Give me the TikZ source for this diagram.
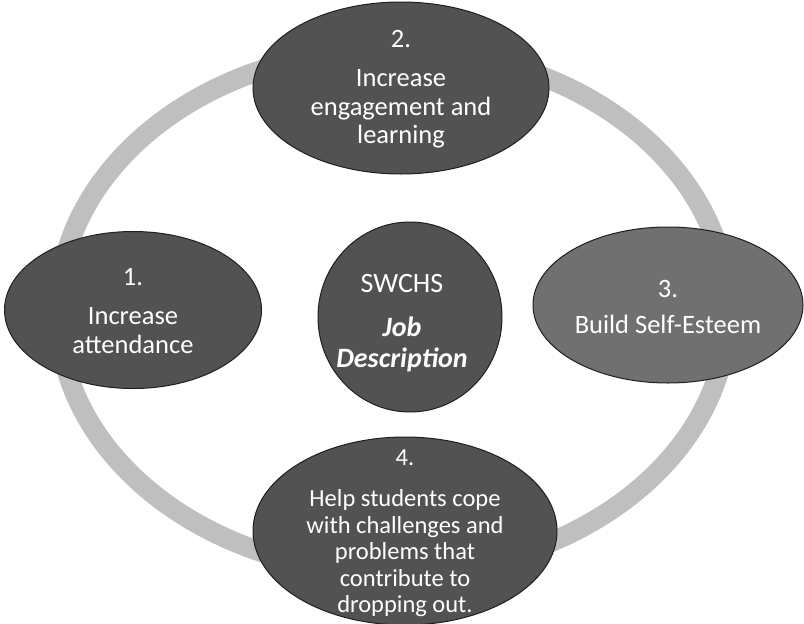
\documentclass[tikz,border=0pt]{standalone}
\usepackage{fontspec}
\setmainfont{Carlito}
\usetikzlibrary{shapes.geometric}
\begin{document}
\begin{tikzpicture}[x=1pt,y=-1pt,
  bub/.style={ellipse, fill=black!68, draw=black!88, line width=1pt, inner sep=0pt},
  lbl/.style={text=white, align=center, inner sep=0pt, font=\fontsize{26.5}{28.5}\selectfont},
  ringline/.style={draw=black!25, line width=20pt}]
\useasboundingbox (0,0) rectangle (804,624);
% outer ring
\draw[ringline] (393,311) ellipse [x radius=335, y radius=262];
% shapes
\node[bub, minimum width=296pt, minimum height=172pt] (g2) at (401,88) {};
\node[bub, minimum width=257pt, minimum height=157pt] (g1) at (133,310) {};
\node[bub, fill=black!56, minimum width=270pt, minimum height=156pt] (g3) at (668,305) {};
\node[bub, minimum width=304pt, minimum height=188pt] (g4) at (405,531) {};
\node[bub, minimum width=184pt, minimum height=190pt] (c) at (410,317) {};
% texts
\node[lbl] (t2) at ([yshift=-1pt]g2.center) {2.\\[11pt]Increase\\engagement and\\learning};
\node[lbl] (t1) at ([yshift=-1pt]g1.center) {1.\\[11pt]Increase\\attendance};
\node[lbl] (t3) at ([yshift=-2pt]g3.center) {3.\\[8pt]Build Self-Esteem};
\node[lbl, font=\fontsize{24.5}{26.5}\selectfont] (t4) at ([yshift=-2pt]g4.center) {4.\\[15pt]Help students cope\\with challenges and\\problems that\\contribute to\\dropping out.};
\node[lbl, font=\fontsize{28}{31}\selectfont] (tc) at ([xshift=-8pt,yshift=-6pt]c.center) {SWCHS\\[13pt]\textbf{\textit{Job}}\\\textbf{\textit{Description}}};
\end{tikzpicture}
\end{document}
